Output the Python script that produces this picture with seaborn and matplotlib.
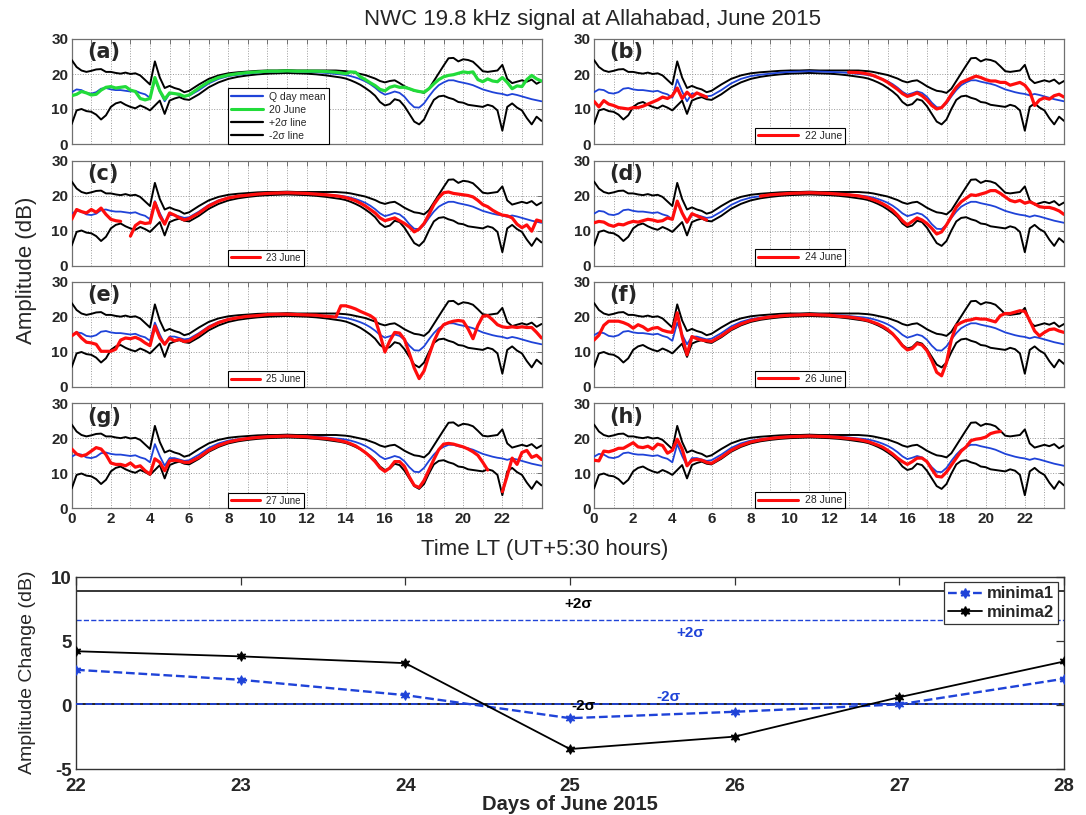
import numpy as np
import matplotlib
matplotlib.use("Agg")
import matplotlib.pyplot as plt
from matplotlib.lines import Line2D
import seaborn as sns

nan = np.nan

# ---------------------------------------------------------------- data
# local time (hours) at which the amplitude curves are sampled
hours = [0.0, 0.25, 0.5, 0.75, 1.0, 1.25, 1.5, 1.75, 2.0, 2.25, 2.5, 2.75,
         3.0, 3.25, 3.5, 3.75, 4.0, 4.25, 4.5, 4.75, 5.0, 5.25, 5.5, 5.75,
         6.0, 6.5, 7.0, 7.5, 8.0, 8.5, 9.0, 9.5, 10.0, 10.5, 11.0, 11.5,
         12.0, 12.5, 13.0, 13.5, 13.75, 14.0, 14.25, 14.5, 14.75, 15.0,
         15.25, 15.5, 15.75, 16.0, 16.25, 16.5, 16.75, 17.0, 17.25, 17.5,
         17.75, 18.0, 18.25, 18.5, 18.75, 19.0, 19.25, 19.5, 19.75, 20.0,
         20.25, 20.5, 20.75, 21.0, 21.25, 21.5, 21.75, 22.0, 22.25, 22.5,
         22.75, 23.0, 23.25, 23.5, 23.75, 24.0]

q_day_mean = [14.8, 15.6, 15.4, 14.6, 14.4, 14.8, 15.8, 16.0, 15.6, 15.4, 15.4, 15.2,
              15.0, 15.2, 14.6, 14.2, 13.2, 18.4, 15.0, 12.2, 14.4, 14.4, 14.0, 13.6,
              13.8, 15.4, 17.3, 18.6, 19.4, 19.8, 20.1, 20.4, 20.6, 20.7, 20.8, 20.7,
              20.6, 20.5, 20.3, 20.0, 19.9, 19.7, 19.4, 19.0, 18.5, 17.9,
              17.1, 16.1, 14.9, 14.1, 14.5, 15.0, 14.6, 13.5, 11.8, 10.5,
              10.4, 11.6, 13.6, 15.4, 16.8, 17.6, 18.2, 18.2, 17.8, 17.5,
              17.2, 16.8, 16.2, 15.6, 15.2, 14.8, 14.5, 14.3, 13.9, 14.3,
              14.0, 13.6, 13.2, 12.8, 12.5, 12.2]

plus_2sigma = [24.0, 22.0, 21.0, 20.6, 20.9, 21.3, 21.4, 20.6, 20.6, 20.3, 20.1, 20.4,
               20.0, 20.2, 19.6, 18.3, 17.0, 23.6, 19.0, 16.0, 16.6, 16.0, 15.6, 14.8,
               15.2, 17.0, 18.6, 19.6, 20.2, 20.5, 20.7, 20.9, 21.0, 21.0, 21.1, 21.0,
               21.0, 21.0, 21.0, 21.0, 20.9, 20.8, 20.6, 20.3, 20.0, 19.7,
               19.2, 18.7, 18.0, 17.6, 18.0, 18.2, 17.4, 16.5, 15.8, 15.2,
               15.0, 14.6, 15.8, 18.0, 20.2, 22.4, 24.5, 24.6, 23.6, 24.2,
               24.0, 23.5, 22.2, 20.8, 20.6, 20.8, 21.0, 22.6, 18.6, 17.4,
               17.8, 18.2, 17.8, 18.4, 17.2, 18.0]

minus_2sigma = [5.7, 9.6, 10.0, 9.4, 9.2, 8.4, 7.0, 8.2, 10.6, 11.6, 12.0, 11.2,
                10.6, 10.2, 11.0, 10.4, 9.6, 11.0, 12.4, 8.6, 12.4, 13.0, 13.4, 12.8,
                12.6, 14.2, 16.2, 17.6, 18.6, 19.2, 19.6, 19.9, 20.1, 20.2, 20.3, 20.2,
                20.1, 19.9, 19.6, 19.2, 19.0, 18.7, 18.2, 17.6, 16.9, 16.0,
                15.0, 13.8, 12.0, 11.0, 11.4, 12.8, 12.4, 10.8, 8.6, 6.4,
                5.6, 7.0, 10.0, 12.6, 13.6, 13.8, 13.2, 12.8, 12.0, 11.8,
                11.2, 11.0, 10.8, 10.6, 11.2, 10.8, 9.6, 3.8, 10.6, 11.6,
                10.4, 9.6, 7.4, 5.6, 7.8, 6.6]

june20 = [13.8, 14.2, 15.0, 14.6, 14.0, 14.2, 15.4, 16.2, 16.4, 16.0, 16.2, 16.4,
          15.4, 15.0, 13.0, 12.6, 13.0, 19.0, 15.2, 12.8, 14.6, 14.4, 14.2, 13.6,
          14.0, 16.0, 17.8, 19.0, 19.7, 20.1, 20.4, 20.6, 20.8, 20.8, 20.9, 20.8,
          20.8, 20.8, 20.7, 20.5, 20.3, 20.1, 20.6, 20.5, 19.2, 18.4,
          17.5, 16.7, 15.6, 15.2, 16.2, 16.6, 16.2, 16.2, 15.8, 15.3,
          15.0, 14.8, 15.8, 17.2, 18.4, 19.2, 19.6, 19.8, 20.2, 20.6,
          20.4, 20.6, 18.4, 17.8, 18.6, 18.0, 17.8, 19.0, 17.6, 15.8,
          16.6, 16.4, 18.4, 19.6, 18.6, 18.0]

june22 = [12.2, 10.6, 12.4, 11.4, 11.0, 10.4, 10.2, 10.0, 10.4, 10.4, 10.8, 11.4,
          12.0, 12.6, 13.4, 13.0, 13.8, 16.0, 13.0, 14.8, 13.4, 14.6, 14.0, 13.4,
          nan, nan, nan, nan, nan, nan, nan, nan, nan, nan, nan, nan,
          nan, nan, 20.5, 20.4, 20.2, 20.0, 19.6, 19.0, 18.4, 17.6,
          16.6, 15.6, 14.4, 13.6, 14.0, 14.6, 13.8, 12.6, 11.0, 10.0,
          10.4, 12.0, 14.2, 16.2, 17.6, 18.2, 18.8, 19.4, 19.0, 18.4,
          18.0, 18.0, 17.6, 17.6, 16.8, 17.2, 17.6, 16.8, 15.0, 11.0,
          12.6, 13.2, 12.8, 13.8, 14.2, 13.4]

june23 = [13.2, 16.0, 15.4, 15.0, 16.0, 15.2, 16.4, 14.6, 13.2, 12.8, 12.6, nan,
          8.4, 11.4, 12.4, 12.0, 12.2, 18.0, 14.2, 11.8, 15.0, 14.4, 13.6, 13.0,
          13.4, 15.0, 17.0, 18.4, 19.3, 19.8, 20.1, 20.4, 20.6, 20.7, 20.8, 20.7,
          20.6, 20.4, 20.2, 19.9, 19.7, 19.4, 19.0, 18.5, 17.8, 17.0,
          16.0, 15.0, 13.6, 12.8, 13.2, 13.6, 12.8, 12.0, 11.0, 9.6,
          10.4, 12.0, 14.6, 17.4, 19.4, 20.8, 21.0, 20.6, 20.4, 20.2,
          20.0, 19.6, 18.6, 17.4, 16.8, 15.8, 15.0, 14.4, 14.2, 13.6,
          11.8, 10.8, 11.6, 9.8, 13.0, 12.6]

june24 = [12.2, 12.6, 12.4, 11.6, 11.2, 11.8, 11.6, 12.2, 12.6, 12.4, 12.8, 13.2,
          13.0, 12.6, 12.8, 13.6, 13.2, 18.4, 15.0, 12.4, 14.8, 14.2, 13.6, 13.0,
          nan, nan, nan, nan, nan, 19.8, 20.2, 20.4, 20.6, 20.7, 20.8, 20.7,
          20.6, 20.4, 20.2, 19.9, 19.6, 19.3, 18.8, 18.3, 17.6, 16.8,
          15.8, 14.4, 12.8, 11.6, 12.6, 13.6, 13.0, 12.0, 10.6, 9.0,
          9.6, 11.6, 14.0, 16.6, 18.2, 19.2, 20.2, 20.0, 20.4, 20.8,
          21.4, 21.4, 20.6, 19.6, 18.6, 18.2, 18.6, 17.8, 18.2, 17.6,
          16.8, 16.6, 16.6, 16.2, 15.6, 14.6]

june25 = [14.6, 15.6, 14.0, 12.8, 12.6, 12.2, 10.2, 10.2, 10.2, 10.8, 13.4, 14.0,
          13.8, 14.2, 13.6, 12.6, 11.8, 17.4, 14.0, 12.2, 14.0, 13.2, 13.6, 13.0,
          13.2, 15.0, 17.0, 18.4, 19.3, 19.8, 20.2, 20.4, 20.7, 20.8, 20.8, 20.7,
          20.6, 20.5, 20.2, 20.0, 23.2, 23.2, 22.8, 22.3, 21.6, 21.0,
          20.4, 19.4, 15.0, 10.0, 13.2, 15.6, 15.4, 13.6, 9.6, 5.4,
          2.4, 4.6, 9.0, 13.0, 16.0, 17.8, 18.4, 18.8, 19.0, 18.8,
          16.6, 13.8, 17.6, 20.2, 20.4, 19.2, 17.8, 17.2, 17.0, 17.2,
          17.0, 17.2, 17.0, 17.0, 15.6, 14.0]

june26 = [13.4, 14.8, 17.6, 18.8, 18.8, 18.8, 18.4, 17.8, 16.8, 17.8, 17.2, 16.2,
          16.8, 17.0, 16.2, 15.8, 15.6, 21.2, 14.4, 9.2, 14.4, 13.8, 13.4, 13.2,
          13.0, 14.6, 16.6, 18.0, 19.0, 19.6, 20.0, 20.3, 20.5, 20.6, 20.7, 20.6,
          20.5, 20.2, 20.0, 19.6, 19.3, 19.0, 18.5, 18.0, 17.3, 16.4,
          15.2, 13.6, 11.8, 10.6, 11.0, 12.4, 12.0, 10.4, 7.6, 4.2,
          3.2, 7.0, 13.6, 17.6, 18.4, 19.0, 19.2, 19.6, 19.4, 19.4,
          19.0, 18.6, 20.4, 21.0, 21.0, 21.4, 21.8, 21.6, 19.0, 16.0,
          14.6, 15.6, 16.4, 16.6, 16.0, 15.6]

june27 = [17.0, 15.6, 15.0, 15.4, 16.4, 17.4, 17.0, 15.4, 13.0, 12.6, 12.6, 12.2,
          13.0, 11.8, 12.2, 10.8, 9.8, 14.2, 13.2, 10.8, 13.6, 13.8, 13.6, 13.2,
          13.2, 14.6, 16.6, 18.0, 19.0, 19.6, 20.0, 20.3, 20.5, 20.6, 20.7, 20.6,
          20.5, 20.2, 20.0, 19.6, 19.3, 19.0, 18.5, 17.9, 17.0, 16.0,
          14.8, 13.4, 11.6, 10.6, 11.6, 13.4, 13.4, 12.0, 9.0, 6.6,
          6.0, 8.0, 11.0, 14.0, 16.8, 18.4, 18.6, 18.4, 18.0, 17.6,
          17.0, 16.2, 15.2, 13.2, 11.0, nan, nan, 4.8, 9.4, 14.4,
          12.6, 16.0, 16.6, 14.6, 15.2, 14.0]

june28 = [13.8, 13.6, 16.4, 16.2, 16.6, 17.2, 17.2, 18.0, 18.8, 17.6, 17.4, 17.8,
          17.0, 18.4, 18.0, 15.8, 16.6, 19.8, 17.0, 12.2, 13.8, 14.0, 13.8, 13.2,
          12.9, 14.6, 16.6, 18.0, 19.0, 19.6, 20.0, 20.3, 20.5, 20.6, 20.7, 20.6,
          20.5, 20.3, 20.0, 19.7, 19.4, 19.1, 18.6, 18.1, 17.5, 16.6,
          15.6, 14.4, 13.4, 12.6, 13.4, 14.4, 14.4, 13.4, 11.2, 9.2,
          9.0, 10.4, 12.4, 14.4, 16.4, 17.6, 19.4, 19.8, 20.0, 20.4,
          21.4, 21.8, 22.0, nan, nan, nan, nan, nan, nan, nan,
          nan, nan, nan, nan, nan, nan]

panel_tags = ["(a)", "(b)", "(c)", "(d)", "(e)", "(f)", "(g)", "(h)"]
day_labels = ["20 June", "22 June", "23 June", "24 June",
              "25 June", "26 June", "27 June", "28 June"]
day_series = [june20, june22, june23, june24, june25, june26, june27, june28]

# amplitude change of the two minima, day by day
days = [22, 23, 24, 25, 26, 27, 28]
minima1 = [2.75, 1.97, 0.77, -1.03, -0.53, 0.05, 2.05]
minima2 = [4.2, 3.8, 3.27, -3.44, -2.47, 0.61, 3.4]
minima1_upper, minima1_lower = 6.62, 0.05
minima2_upper, minima2_lower = 8.88, 0.05

# ---------------------------------------------------------------- style
sns.set_style("white")
plt.rcParams["font.family"] = ["Liberation Sans", "DejaVu Sans"]
plt.rcParams["axes.linewidth"] = 0.9
plt.rcParams["axes.unicode_minus"] = False

BLUE = "#1f43d8"
RED = "#ff0d0d"
GREEN = "#22dc3a"
BLACK = "#000000"
SPINE = "#707070"

W, H = 1086, 815


def rect(left, top, right, bottom):
    return [left / W, 1 - bottom / H, (right - left) / W, (bottom - top) / H]


def draw_series(ax, x, y, **kw):
    """Draw a curve with seaborn, leaving gaps where values are missing."""
    x = np.asarray(x, float)
    y = np.asarray(y, float)
    idx = np.where(~np.isnan(y))[0]
    if idx.size == 0:
        return
    cuts = np.where(np.diff(idx) > 1)[0] + 1
    for seg in np.split(idx, cuts):
        if seg.size < 2:
            continue
        sns.lineplot(x=x[seg], y=y[seg], ax=ax, estimator=None, sort=False,
                     errorbar=None, legend=False, **kw)


fig = plt.figure(figsize=(10.86, 8.15), dpi=100)

col_edges = [(71.7, 541.5), (594.0, 1064.0)]
row_tops = [39.0, 160.5, 282.0, 403.5]
row_h = 105.0

for k, (tag, label, series) in enumerate(zip(panel_tags, day_labels, day_series)):
    row, col = divmod(k, 2)
    left, right = col_edges[col]
    top = row_tops[row]
    ax = fig.add_axes(rect(left, top, right, top + row_h))

    draw_series(ax, hours, plus_2sigma, color=BLACK, linewidth=1.4, zorder=3)
    draw_series(ax, hours, minus_2sigma, color=BLACK, linewidth=1.4, zorder=3)
    draw_series(ax, hours, q_day_mean, color=BLUE, linewidth=1.3, zorder=4)
    day_color = GREEN if k == 0 else RED
    draw_series(ax, hours, series, color=day_color, linewidth=2.3, zorder=5)

    ax.set_xlim(0, 24)
    ax.set_ylim(0, 30)
    ax.set_xticks(range(0, 24))
    if row == 3:
        ax.set_xticklabels([str(h) if h % 2 == 0 else "" for h in range(0, 24)])
    else:
        ax.set_xticklabels([])
    ax.set_yticks([0, 10, 20, 30])
    ax.set_xlabel("")
    ax.set_ylabel("")
    ax.grid(True, which="major", linestyle=":", color="#9a9a9a", linewidth=0.7)
    ax.set_axisbelow(True)
    ax.tick_params(direction="in", length=3.5, width=0.7, color=SPINE,
                   top=True, right=True, labelsize=11, pad=2.5)
    for t in ax.get_xticklabels() + ax.get_yticklabels():
        t.set_fontweight("bold")
    for s in ax.spines.values():
        s.set_color(SPINE)
        s.set_linewidth(0.9)

    ax.text(0.8, 26.2, tag, fontsize=15, fontweight="bold",
            family="DejaVu Sans", ha="left", va="center", zorder=6)

    if k == 0:
        handles = [Line2D([], [], color=BLUE, lw=1.6),
                   Line2D([], [], color=GREEN, lw=2.2),
                   Line2D([], [], color=BLACK, lw=1.6),
                   Line2D([], [], color=BLACK, lw=1.6)]
        labels = ["Q day mean", label, "+2σ line", "-2σ line"]
        x0, fs, hl = 8.0 / 24, 7.5, 3.0
    else:
        handles = [Line2D([], [], color=RED, lw=2.2)]
        labels = [label]
        if col == 0:
            x0, fs, hl = 8.0 / 24, 7.0, 3.0
        else:
            x0, fs, hl = 8.2 / 24, 7.5, 3.9
    leg = ax.legend(handles, labels, loc="lower left", bbox_to_anchor=(x0, 0.0),
                    bbox_transform=ax.transAxes, borderaxespad=0.0, fontsize=fs,
                    handlelength=hl, handletextpad=0.6, borderpad=0.3,
                    labelspacing=0.3, frameon=True, fancybox=False,
                    framealpha=1.0, edgecolor=BLACK)
    leg.get_frame().set_linewidth(0.8)
    leg.set_zorder(7)

fig.text(593 / W, 1 - 20 / H, "NWC 19.8 kHz signal at Allahabad, June 2015",
         ha="center", va="center", fontsize=16)
fig.text(27 / W, 1 - 270 / H, "Amplitude (dB)", rotation=90,
         ha="center", va="center", fontsize=16)
fig.text(545 / W, 1 - 550 / H, "Time LT (UT+5:30 hours)",
         ha="center", va="center", fontsize=16)

# ---------------------------------------------------------------- lower panel
axb = fig.add_axes(rect(76, 577, 1064, 769))
axb.axhline(minima2_upper, color=BLACK, linewidth=1.1, zorder=2)
axb.axhline(minima1_upper, color=BLUE, linewidth=1.0, linestyle="--", zorder=2)
axb.axhline(minima2_lower, color=BLACK, linewidth=1.2, zorder=2)
axb.axhline(minima1_lower, color=BLUE, linewidth=1.3, linestyle="--", zorder=3)

star6 = (6, 1, 0)
sns.lineplot(x=days, y=minima1, ax=axb, color=BLUE, linestyle="--", linewidth=1.7,
             marker=star6, markersize=7, markeredgecolor=BLUE, estimator=None,
             errorbar=None, legend=False, zorder=4)
sns.lineplot(x=days, y=minima2, ax=axb, color=BLACK, linestyle="-", linewidth=1.3,
             marker=star6, markersize=7, markeredgecolor=BLACK, estimator=None,
             errorbar=None, legend=False, zorder=5)

axb.text(25.05, 7.9, "+2σ", color=BLACK, fontsize=11, fontweight="bold",
         ha="center", va="center")
axb.text(25.73, 5.65, "+2σ", color=BLUE, fontsize=11, fontweight="bold",
         ha="center", va="center")
axb.text(25.6, 0.6, "-2σ", color=BLUE, fontsize=11, fontweight="bold",
         ha="center", va="center")
axb.text(25.08, -0.1, "-2σ", color=BLACK, fontsize=11, fontweight="bold",
         ha="center", va="center")

axb.set_xlim(22, 28)
axb.set_ylim(-5, 10)
axb.set_xticks(days)
axb.set_yticks([-5, 0, 5, 10])
axb.tick_params(direction="in", length=6, width=0.9, color="#333333",
                top=True, right=True, labelsize=13.5)
axb.tick_params(axis="x", pad=6.5)
axb.tick_params(axis="y", pad=3)
for t in axb.get_xticklabels() + axb.get_yticklabels():
    t.set_fontweight("bold")
for s in axb.spines.values():
    s.set_color("#333333")
    s.set_linewidth(1.0)
axb.set_xlabel("Days of June 2015", fontsize=14.5, fontweight="bold", labelpad=0)
axb.set_ylabel("")
fig.text(28 / W, 1 - 672 / H, "Amplitude Change (dB)", rotation=90,
         ha="center", va="center", fontsize=14)

leg_handles = [Line2D([], [], color=BLUE, linestyle="--", linewidth=1.7,
                      marker=star6, markersize=7),
               Line2D([], [], color=BLACK, linestyle="-", linewidth=1.3,
                      marker=star6, markersize=7)]
legb = axb.legend(leg_handles, ["minima1", "minima2"], loc="upper right",
                  bbox_to_anchor=(0.994, 0.973), bbox_transform=axb.transAxes,
                  borderaxespad=0.0, numpoints=1, handlelength=2.0,
                  handletextpad=0.3, borderpad=0.25, labelspacing=0.2,
                  prop={"weight": "bold", "size": 12}, frameon=True,
                  fancybox=False, framealpha=1.0, edgecolor="#333333")
legb.get_frame().set_linewidth(0.9)

fig.savefig("out.png", dpi=100)
